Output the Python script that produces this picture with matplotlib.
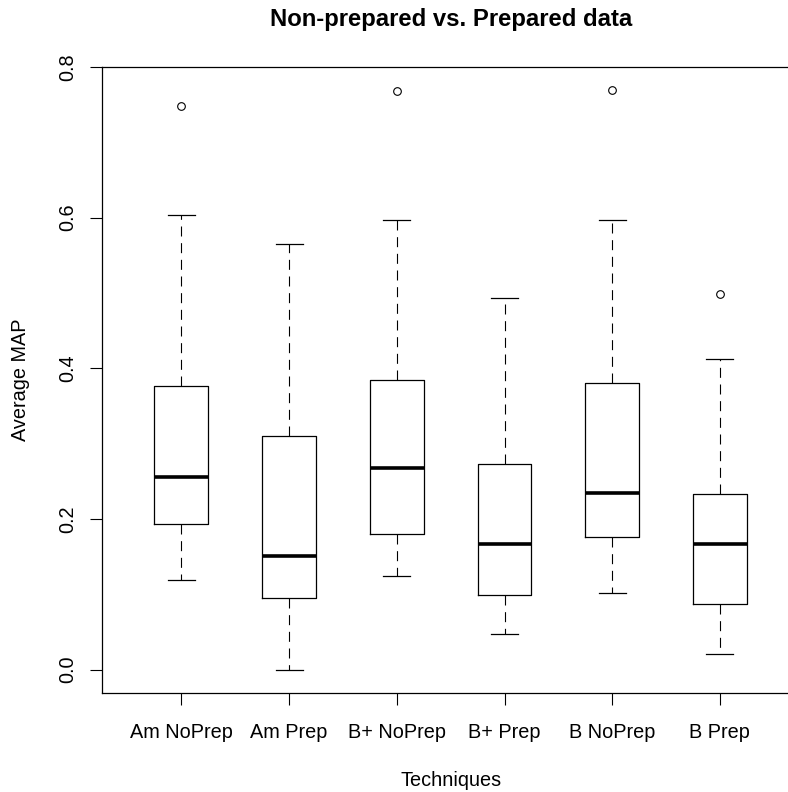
import matplotlib
matplotlib.use("Agg")
import matplotlib.pyplot as plt

labels = ["Am NoPrep", "Am Prep", "B+ NoPrep", "B+ Prep", "B NoPrep", "B Prep"]
whislo = [0.119, 0.000, 0.124, 0.047, 0.102, 0.021]
q1 = [0.193, 0.095, 0.180, 0.099, 0.176, 0.087]
med = [0.255, 0.151, 0.268, 0.167, 0.235, 0.167]
q3 = [0.376, 0.310, 0.385, 0.273, 0.380, 0.233]
whishi = [0.604, 0.565, 0.597, 0.493, 0.597, 0.412]
fliers = [[0.748], [], [0.768], [], [0.769], [0.499]]

plt.rcParams['font.family'] = ['Liberation Sans', 'DejaVu Sans']

fig = plt.figure(figsize=(7.88, 7.92), dpi=100)
W, H = 788, 792
left, right, top, bottom = 101.7, 799.6, 67.0, 692.7
ax = fig.add_axes([left / W, 1 - bottom / H, (right - left) / W, (bottom - top) / H])

stats = []
for i in range(len(labels)):
    stats.append(dict(label=labels[i], whislo=whislo[i], q1=q1[i], med=med[i],
                      q3=q3[i], whishi=whishi[i], fliers=fliers[i]))

ax.bxp(stats, positions=range(1, len(labels) + 1), widths=0.5, showfliers=True,
       boxprops=dict(color='black', linewidth=0.9),
       medianprops=dict(color='black', linewidth=2.6, solid_capstyle='butt'),
       whiskerprops=dict(color='black', linewidth=0.8, linestyle=(0, (9, 6))),
       capprops=dict(color='black', linewidth=0.9),
       flierprops=dict(marker='o', markerfacecolor='none', markeredgecolor='black',
                       markersize=5.5, markeredgewidth=0.8, linestyle='none'))

fs = 14.3
ax.set_xlim(0.26, 6.74)
ax.set_ylim(-0.0308, 0.80)
ax.set_xticks(range(1, len(labels) + 1))
ax.set_xticklabels(labels, fontsize=fs)
ax.set_yticks([0.0, 0.2, 0.4, 0.6, 0.8])
ax.set_yticklabels(["0.0", "0.2", "0.4", "0.6", "0.8"], fontsize=fs, rotation=90, va='center')
ax.tick_params(axis='both', direction='out', length=8.6, width=0.8, color='black')
ax.tick_params(axis='x', pad=13)
ax.tick_params(axis='y', pad=9)
for s in ax.spines.values():
    s.set_linewidth(0.9)
    s.set_color('black')

cx = (left + right) / 2 / W
fig.text(cx, 1 - 26 / H, "Non-prepared vs. Prepared data",
         ha='center', va='baseline', fontsize=17.2, fontweight='bold')
fig.text(cx, 1 - 786.5 / H, "Techniques",
         ha='center', va='baseline', fontsize=fs)
fig.text(21 / W, 1 - (top + bottom) / 2 / H, "Average MAP",
         ha='center', va='center', fontsize=fs, rotation=90)

fig.savefig("out.png", dpi=100)
